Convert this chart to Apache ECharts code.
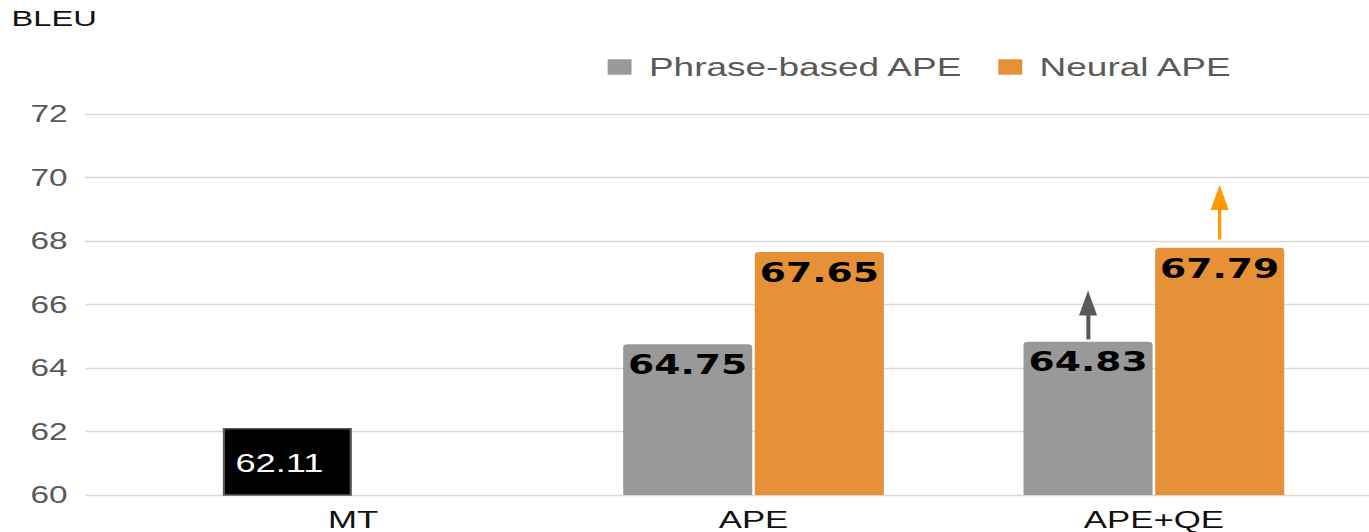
<!DOCTYPE html>
<html>
<head>
<meta charset="utf-8">
<title>BLEU: Phrase-based APE vs Neural APE</title>
<script src="https://cdn.jsdelivr.net/npm/echarts@6.0.0/dist/echarts.min.js"></script>
<style>
  html, body { margin: 0; padding: 0; background: #fff; overflow: hidden; }
  /* chart is laid out narrow and widened horizontally for the wide lettering */
  #chart { width: 944px; height: 532px; transform: scaleX(1.4502); transform-origin: 0 0; }
</style>
</head>
<body>
<div id="chart"></div>
<script>
// Data
const categories = ['MT', 'APE', 'APE+QE'];
const phraseBased = [62.11, 64.75, 64.83];
const neural = [null, 67.65, 67.79];
const yMin = 60, yMax = 72, yStep = 2;
// gain arrows above the APE+QE bars: [start, end] on the BLEU scale
const gainArrowPhrase = [64.9, 66.05];
const gainArrowNeural = [68.05, 69.37];

const GRAY = '#999999', ORANGE = '#E69138';

const valueLabel = {
  show: true,
  position: 'insideTop',
  distance: 8,
  color: '#000',
  fontFamily: 'DejaVu Sans',
  fontWeight: 'bold',
  fontSize: 26,
  formatter: p => p.value.toFixed(2)
};

const phraseData = phraseBased.map((v, i) => {
  if (categories[i] !== 'MT') return v;
  // baseline MT score drawn as a black box in the first slot
  return {
    value: v,
    itemStyle: { color: '#000', borderColor: '#595959', borderWidth: 1.5, borderRadius: 0 },
    label: {
      position: 'inside', color: '#fff', fontFamily: 'Liberation Sans Narrow, Liberation Sans, Arial',
      fontWeight: 'normal', fontSize: 25, offset: [-5.5, 2]
    }
  };
});

function arrowLine(cat, span, color, width) {
  return {
    silent: true,
    symbol: ['none', 'triangle'],
    symbolSize: [12.5, 25],
    label: { show: false },
    lineStyle: { color: color, width: width, type: 'solid' },
    emphasis: { disabled: true },
    data: [[{ coord: [cat, span[0]] }, { coord: [cat, span[1]] }]]
  };
}

const chart = echarts.init(document.getElementById('chart'), null, { renderer: 'svg' });
chart.setOption({
  animation: false,
  backgroundColor: '#fff',
  title: {
    text: 'BLEU', left: 3, top: 2,
    textStyle: { fontFamily: 'Liberation Sans, Arial', fontSize: 22.5, fontWeight: 'normal', color: '#111' }
  },
  legend: {
    left: 414, top: 49,
    itemWidth: 16.5, itemHeight: 15.5, itemGap: 24,
    icon: 'rect',
    textStyle: { fontFamily: 'Liberation Sans, Arial', fontSize: 25.5, color: '#595959', padding: [0, 0, 0, 7] },
    data: ['Phrase-based APE', 'Neural APE']
  },
  grid: [
    { left: 58.6, right: 0, top: 114, bottom: 37 },
    { left: 105.5, right: 10.3, top: 114, bottom: 37 }
  ],
  xAxis: [
    { gridIndex: 0, type: 'value', show: false, min: 0, max: 1 },
    {
      gridIndex: 1, type: 'category', data: categories,
      axisLine: { show: false }, axisTick: { show: false },
      axisLabel: { margin: 13, fontFamily: 'Liberation Sans, Arial', fontSize: 24, color: '#111' }
    }
  ],
  yAxis: [
    {
      gridIndex: 0, type: 'value', min: yMin, max: yMax, interval: yStep,
      axisLine: { show: false }, axisTick: { show: false },
      axisLabel: { margin: 12, fontFamily: 'Liberation Sans, Arial', fontSize: 23, color: '#595959' },
      splitLine: { lineStyle: { color: '#d9d9d9', width: 1.3 } }
    },
    {
      gridIndex: 1, type: 'value', min: yMin, max: yMax, interval: yStep,
      show: false, splitLine: { show: false }
    }
  ],
  series: [
    {
      name: 'Phrase-based APE', type: 'bar', xAxisIndex: 1, yAxisIndex: 1,
      data: phraseData, barWidth: 89, barGap: '2%',
      itemStyle: { color: GRAY, borderRadius: [3, 3, 0, 0] },
      label: valueLabel,
      markLine: arrowLine('APE+QE', gainArrowPhrase, '#595959', 2.8)
    },
    {
      name: 'Neural APE', type: 'bar', xAxisIndex: 1, yAxisIndex: 1,
      data: neural, barWidth: 89, barGap: '2%',
      itemStyle: { color: ORANGE, borderRadius: [3, 3, 0, 0] },
      label: valueLabel,
      markLine: arrowLine('APE+QE', gainArrowNeural, '#FF9900', 2.2)
    }
  ]
});
</script>
</body>
</html>
